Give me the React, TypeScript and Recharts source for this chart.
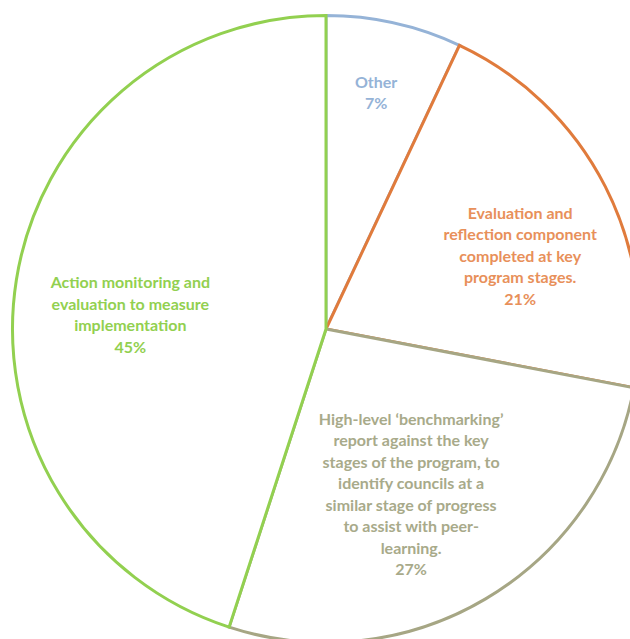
import React from "react";
import { PieChart, Pie, Cell } from "recharts";

const categories = [
    "Other",
    "Evaluation and reflection component completed at key program stages.",
    "High-level ‘benchmarking’ report against the key stages of the program, to identify councils at a similar stage of progress to assist with peer-learning.",
    "Action monitoring and evaluation to measure implementation",
];
const shares = [7, 21, 27, 45];
const labelLines = [
    ["Other"],
    ["Evaluation and", "reflection component", "completed at key", "program stages."],
    ["High-level ‘benchmarking’", "report against the key", "stages of the program, to", "identify councils at a", "similar stage of progress", "to assist with peer-", "learning."],
    ["Action monitoring and", "evaluation to measure", "implementation"],
];

const strokeColors = ["#95B3D7", "#E07B3C", "#A6A684", "#92D050"];
const textColors = ["#95B3D7", "#E8905A", "#A8AA8A", "#92D050"];
// label placement: radius fraction and angle shift from the slice middle (degrees)
const labelPlacement = [
    { r: 0.775, da: 0.7 },
    { r: 0.663, da: -6.1 },
    { r: 0.59, da: -3.2 },
    { r: 0.626, da: 4.5 },
];

const data = categories.map((name, i) => ({ name, value: shares[i] }));

const LINE_H = 21.5;
const RAD = Math.PI / 180;

function renderLabel(props: any) {
    const { cx, cy, midAngle, outerRadius, index, value } = props;
    const p = labelPlacement[index];
    const a = (midAngle + p.da) * RAD;
    const x = cx + outerRadius * p.r * Math.cos(a);
    const y = cy - outerRadius * p.r * Math.sin(a);
    const lines = [...labelLines[index], `${value}%`];
    const top = y - ((lines.length - 1) * LINE_H) / 2;
    return (
        <text x={x} y={top} fill={textColors[index]} textAnchor="middle" dominantBaseline="central"
            fontFamily="Lato, 'Open Sans', sans-serif" fontWeight="bold" fontSize={16}>
            {lines.map((l, i) => (
                <tspan key={i} x={x} y={top + i * LINE_H}>{l}</tspan>
            ))}
        </text>
    );
}

export default function App() {
    return (
        <div style={{ position: "absolute", left: 0, top: 0, width: 630, height: 639, background: "#fff" }}>
            <PieChart width={630} height={639} margin={{ top: 0, right: 0, bottom: 0, left: 0 }}>
                <Pie
                    data={data}
                    dataKey="value"
                    nameKey="name"
                    cx={326}
                    cy={329}
                    outerRadius={313.5}
                    startAngle={90}
                    endAngle={-270}
                    label={renderLabel}
                    labelLine={false}
                    isAnimationActive={false}
                >
                    {data.map((d, i) => (
                        <Cell key={d.name} fill="#FFFFFF" stroke={strokeColors[i]} strokeWidth={3} />
                    ))}
                </Pie>
            </PieChart>
        </div>
    );
}
